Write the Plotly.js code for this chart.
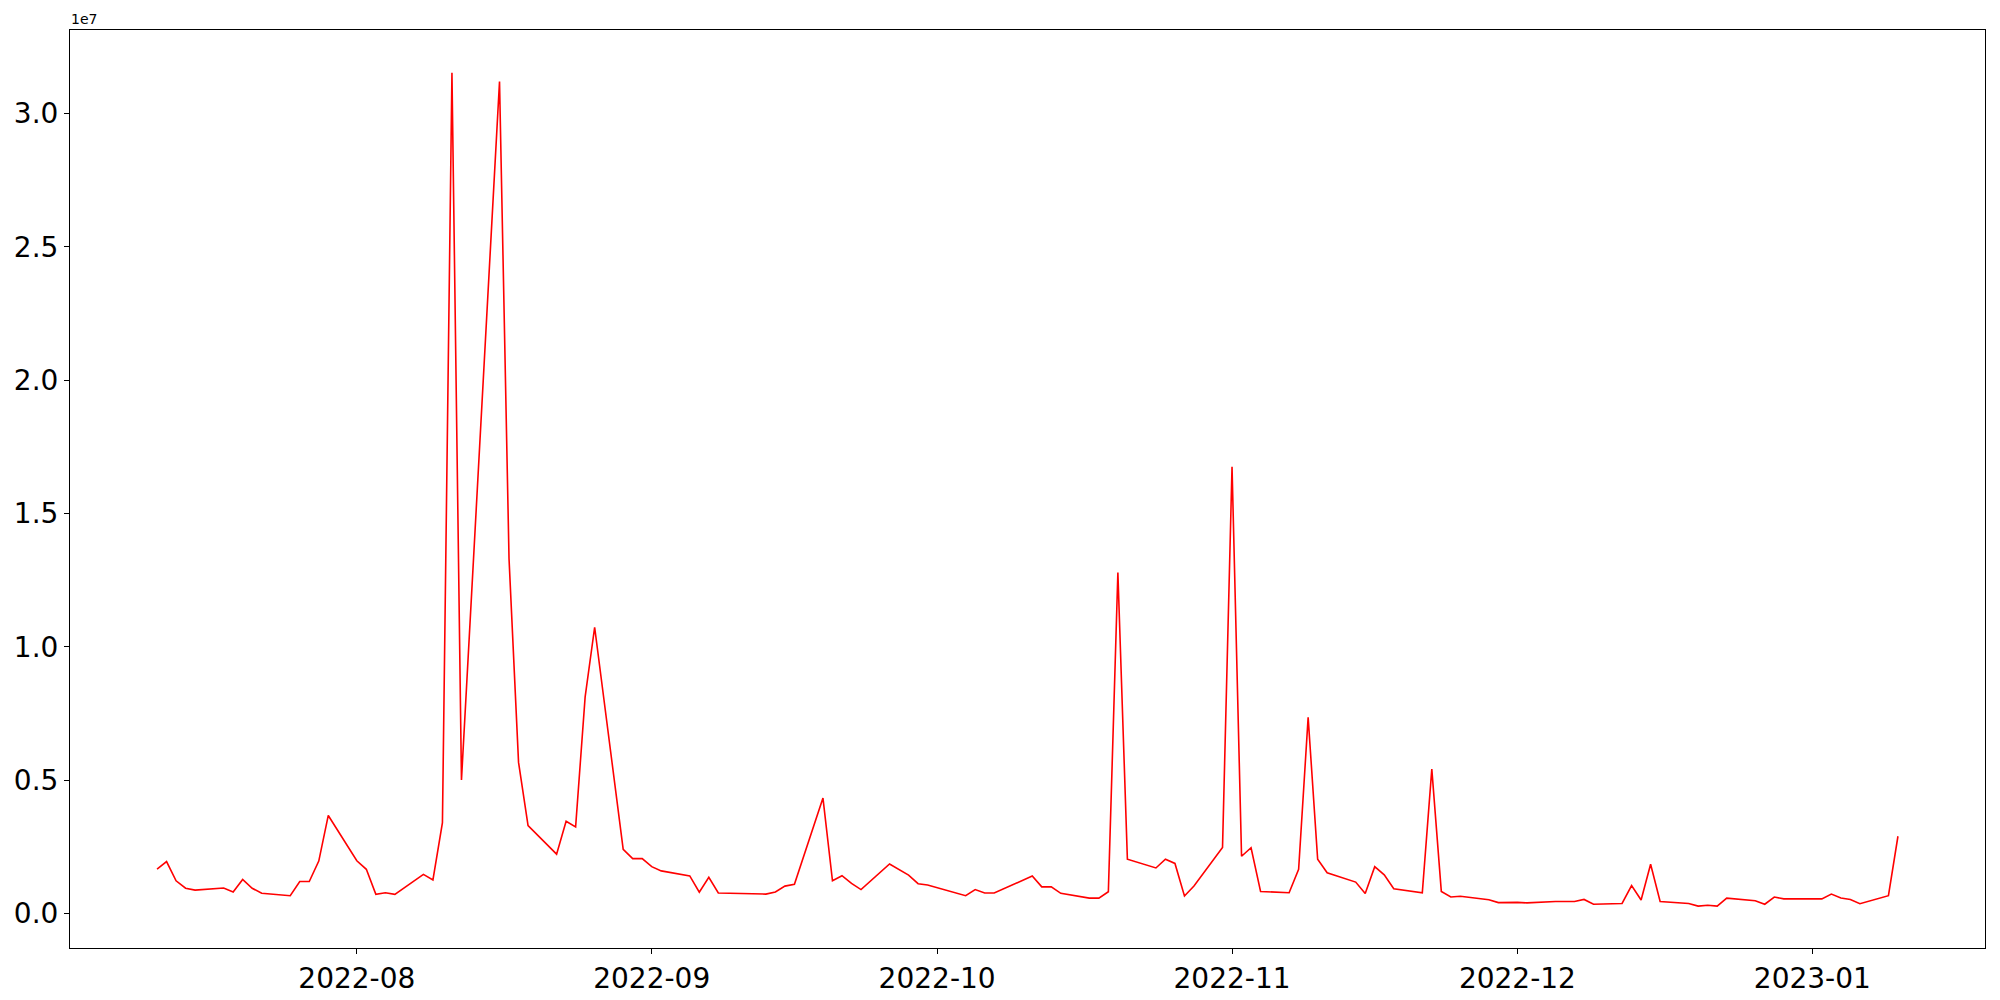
<!DOCTYPE html>
<html>
<head>
<meta charset="utf-8">
<script src="https://cdn.plot.ly/plotly-3.0.1.min.js"></script>
<style>html,body{margin:0;padding:0;background:#fff;}#chart{width:2000px;height:1000px;}</style>
</head>
<body>
<div id="chart"></div>
<script>
const dates = [
"2022-07-11","2022-07-12","2022-07-13","2022-07-14","2022-07-15",
"2022-07-18","2022-07-19","2022-07-20","2022-07-21","2022-07-22",
"2022-07-25","2022-07-26","2022-07-27","2022-07-28","2022-07-29",
"2022-08-01","2022-08-02","2022-08-03","2022-08-04","2022-08-05",
"2022-08-08","2022-08-09","2022-08-10","2022-08-11","2022-08-12",
"2022-08-16","2022-08-17","2022-08-18","2022-08-19",
"2022-08-22","2022-08-23","2022-08-24","2022-08-25","2022-08-26",
"2022-08-29","2022-08-30","2022-08-31","2022-09-01","2022-09-02",
"2022-09-05","2022-09-06","2022-09-07","2022-09-08",
"2022-09-13","2022-09-14","2022-09-15","2022-09-16",
"2022-09-19","2022-09-20","2022-09-21","2022-09-22","2022-09-23",
"2022-09-26","2022-09-28","2022-09-29","2022-09-30",
"2022-10-04","2022-10-05","2022-10-06","2022-10-07",
"2022-10-11","2022-10-12","2022-10-13","2022-10-14",
"2022-10-17","2022-10-18","2022-10-19","2022-10-20","2022-10-21",
"2022-10-24","2022-10-25","2022-10-26","2022-10-27","2022-10-28",
"2022-10-31","2022-11-01","2022-11-02","2022-11-03","2022-11-04",
"2022-11-07","2022-11-08","2022-11-09","2022-11-10","2022-11-11",
"2022-11-14","2022-11-15","2022-11-16","2022-11-17","2022-11-18",
"2022-11-21","2022-11-22","2022-11-23","2022-11-24","2022-11-25",
"2022-11-28","2022-11-29","2022-12-01","2022-12-02",
"2022-12-05","2022-12-06","2022-12-07","2022-12-08","2022-12-09",
"2022-12-12","2022-12-13","2022-12-14","2022-12-15","2022-12-16",
"2022-12-19","2022-12-20","2022-12-21","2022-12-22","2022-12-23",
"2022-12-26","2022-12-27","2022-12-28","2022-12-29",
"2023-01-02","2023-01-03","2023-01-04","2023-01-05","2023-01-06",
"2023-01-09","2023-01-10"
];
const values = [
1.66e6,1.94e6,1.22e6,0.94e6,0.87e6,
0.95e6,0.80e6,1.27e6,0.94e6,0.75e6,
0.66e6,1.19e6,1.19e6,1.96e6,3.67e6,
1.97e6,1.65e6,0.71e6,0.77e6,0.71e6,
1.46e6,1.25e6,3.40e6,31.53e6,5.00e6,
31.2e6,13.3e6,5.66e6,3.29e6,
2.22e6,3.45e6,3.24e6,8.12e6,10.73e6,
2.40e6,2.05e6,2.05e6,1.75e6,1.59e6,
1.40e6,0.79e6,1.35e6,0.76e6,
0.72e6,0.80e6,1.02e6,1.09e6,
4.32e6,1.22e6,1.41e6,1.12e6,0.89e6,
1.85e6,1.43e6,1.11e6,1.06e6,
0.66e6,0.89e6,0.76e6,0.76e6,
1.40e6,0.99e6,0.99e6,0.75e6,
0.57e6,0.57e6,0.81e6,12.78e6,2.03e6,
1.70e6,2.03e6,1.87e6,0.65e6,1.02e6,
2.47e6,16.75e6,2.14e6,2.46e6,0.82e6,
0.77e6,1.65e6,7.35e6,2.03e6,1.52e6,
1.17e6,0.74e6,1.75e6,1.44e6,0.92e6,
0.77e6,5.41e6,0.82e6,0.61e6,0.64e6,
0.51e6,0.40e6,0.41e6,0.39e6,
0.44e6,0.44e6,0.44e6,0.52e6,0.34e6,
0.37e6,1.04e6,0.50e6,1.84e6,0.44e6,
0.37e6,0.27e6,0.30e6,0.27e6,0.57e6,
0.47e6,0.34e6,0.61e6,0.54e6,
0.54e6,0.72e6,0.57e6,0.52e6,0.36e6,
0.66e6,2.89e6
];
const xTickVals = ["2022-08-01","2022-09-01","2022-10-01","2022-11-01","2022-12-01","2023-01-01"];
const xTickText = ["2022-08","2022-09","2022-10","2022-11","2022-12","2023-01"];
const yTickVals = [0,5e6,1e7,1.5e7,2e7,2.5e7,3e7];
const yTickText = ["0.0","0.5","1.0","1.5","2.0","2.5","3.0"];

// x range: data span padded by 5% on each side (matplotlib default margins)
const t0 = Date.parse(dates[0] + "T00:00:00Z");
const t1 = Date.parse(dates[dates.length - 1] + "T00:00:00Z");
const padT = (t1 - t0) * 0.05;
const xRange = [t0 - padT, t1 + padT];

const font = "DejaVu Sans, sans-serif";
const trace = {
  x: dates, y: values, type: "scatter", mode: "lines",
  line: {color: "#ff0000", width: 1.6}, hoverinfo: "skip"
};
const layout = {
  width: 2000, height: 1000,
  margin: {l: 70, r: 15, t: 30, b: 52, pad: 0},
  paper_bgcolor: "#ffffff", plot_bgcolor: "#ffffff",
  showlegend: false,
  font: {family: font, color: "#000000"},
  xaxis: {
    type: "date",
    range: xRange,
    autorange: false,
    tickmode: "array", tickvals: xTickVals, ticktext: xTickText,
    ticks: "outside", ticklen: 5, tickwidth: 1, tickcolor: "#000",
    showgrid: false, zeroline: false,
    showline: true, mirror: true, linecolor: "#000", linewidth: 1,
    tickfont: {family: font, size: 28, color: "#000"}
  },
  yaxis: {
    range: [-1.302e6, 3.3133e7],
    autorange: false,
    tickmode: "array", tickvals: yTickVals, ticktext: yTickText,
    ticks: "outside", ticklen: 5, tickwidth: 1, tickcolor: "#000",
    showgrid: false, zeroline: false,
    showline: true, mirror: true, linecolor: "#000", linewidth: 1,
    tickfont: {family: font, size: 28, color: "#000"}
  },
  annotations: [{
    text: "1e7", xref: "paper", yref: "paper", x: 0, y: 1,
    xanchor: "left", yanchor: "bottom", showarrow: false,
    xshift: -1, yshift: 1,
    font: {family: font, size: 14, color: "#000"}
  }]
};
Plotly.newPlot("chart", [trace], layout, {staticPlot: true, displayModeBar: false});
</script>
</body>
</html>
